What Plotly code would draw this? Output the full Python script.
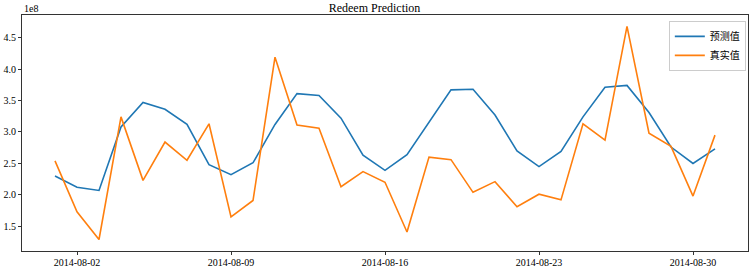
import plotly.graph_objects as go
import pandas as pd

dates = pd.date_range("2014-08-01", "2014-08-31", freq="D").strftime("%Y-%m-%d").tolist()

pred_1e8 = [2.30, 2.12, 2.07, 3.08, 3.47, 3.36, 3.12, 2.48, 2.32, 2.51,
            3.12, 3.61, 3.58, 3.22, 2.63, 2.39, 2.64, 3.16, 3.67, 3.68,
            3.27, 2.70, 2.45, 2.69, 3.24, 3.71, 3.74, 3.31, 2.76, 2.50, 2.73]
real_1e8 = [2.54, 1.73, 1.29, 3.24, 2.23, 2.84, 2.55, 3.13, 1.65, 1.91,
            4.19, 3.11, 3.06, 2.13, 2.37, 2.20, 1.41, 2.60, 2.56, 2.04,
            2.21, 1.81, 2.01, 1.92, 3.13, 2.87, 4.68, 2.98, 2.77, 1.98, 2.95]
pred = [v * 1e8 for v in pred_1e8]
real = [v * 1e8 for v in real_1e8]

y_ticks = [1.5, 2.0, 2.5, 3.0, 3.5, 4.0, 4.5]
x_ticks = ["2014-08-02", "2014-08-09", "2014-08-16", "2014-08-23", "2014-08-30"]

serif = "Liberation Serif"

fig = go.Figure()
fig.add_trace(go.Scatter(x=dates, y=pred, mode="lines", name="预测值",
                         line=dict(color="#1f77b4", width=1.6)))
fig.add_trace(go.Scatter(x=dates, y=real, mode="lines", name="真实值",
                         line=dict(color="#ff7f0e", width=1.6)))

fig.update_layout(
    width=749, height=270,
    margin=dict(l=22, r=1, t=15, b=19),
    paper_bgcolor="white", plot_bgcolor="white",
    font=dict(family=serif, size=10, color="black"),
    title=dict(text="Redeem Prediction", x=0.5, xanchor="center",
               y=0.972, yanchor="middle", font=dict(family=serif, size=12, color="black")),
    showlegend=True,
    legend=dict(x=0.997, y=0.975, xanchor="right", yanchor="top",
                bordercolor="#cccccc", borderwidth=1, bgcolor="rgba(255,255,255,0.8)",
                font=dict(family="Noto Sans CJK SC", size=10),
                tracegroupgap=0, itemwidth=30),
)

fig.update_xaxes(
    type="date",
    range=["2014-07-30 12:00", "2014-09-01 12:00"],
    tickvals=x_ticks, ticktext=x_ticks,
    showgrid=False, zeroline=False,
    showline=True, linecolor="#333333", linewidth=1, mirror=True,
    ticks="outside", ticklen=3, tickcolor="#333333",
    ticklabelstandoff=-1,
    tickfont=dict(family=serif, size=10),
)
fig.update_yaxes(
    range=[1.107e8, 4.86e8],
    tickvals=[v * 1e8 for v in y_ticks], ticktext=[f"{v:.1f}" for v in y_ticks],
    showgrid=False, zeroline=False,
    showline=True, linecolor="#333333", linewidth=1, mirror=True,
    ticks="outside", ticklen=3, tickcolor="#333333",
    tickfont=dict(family=serif, size=10),
)

fig.add_annotation(text="1e8", xref="paper", yref="paper", x=0, y=1,
                   xanchor="left", yanchor="bottom", showarrow=False,
                   font=dict(family=serif, size=10), yshift=-1)

fig.write_html("out.html", config={"displayModeBar": False},
               post_script="document.body.style.margin='0px';")
